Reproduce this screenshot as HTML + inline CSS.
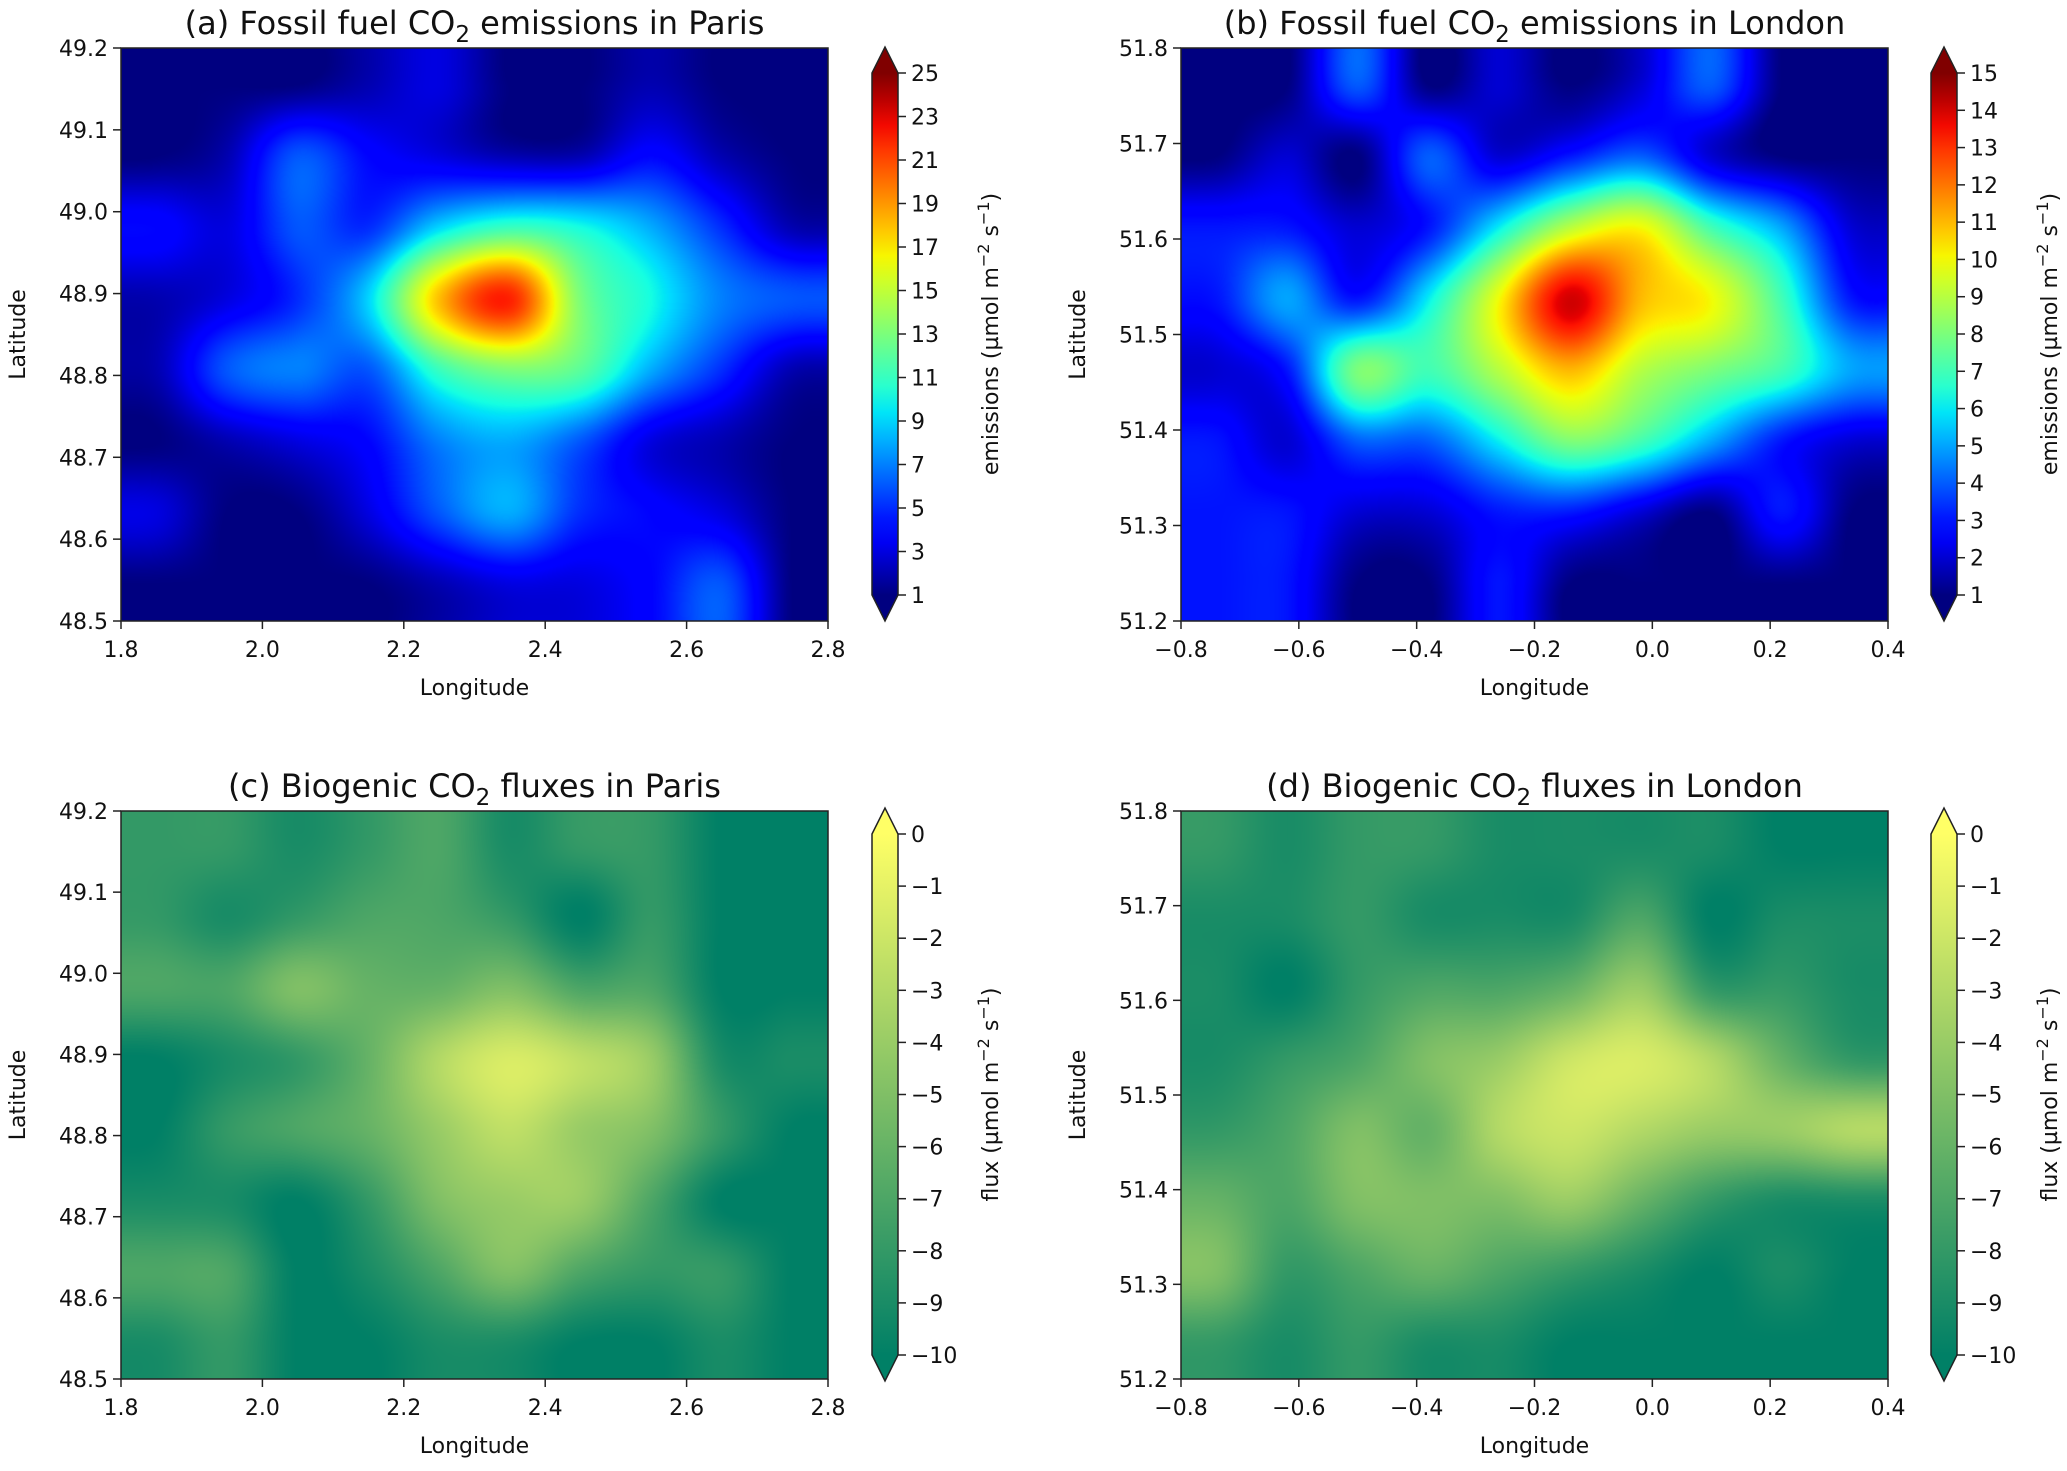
<!DOCTYPE html>
<html><head><meta charset="utf-8">
<style>
html,body{margin:0;padding:0;background:#fff;}
#root{position:relative;width:2067px;height:1471px;overflow:hidden;background:#fff;}
canvas{position:absolute;}
svg{position:absolute;left:0;top:0;}
text{font-family:"DejaVu Sans","Liberation Sans",sans-serif;fill:#111;}
</style></head>
<body>
<div id="root">
<canvas id="cva" width="707" height="573" style="left:121px;top:48px"></canvas>
<canvas id="cvb" width="707" height="573" style="left:1181px;top:48px"></canvas>
<canvas id="cvc" width="707" height="568" style="left:121px;top:811px"></canvas>
<canvas id="cvd" width="707" height="568" style="left:1181px;top:811px"></canvas>
<svg id="ov" width="2067" height="1471"></svg>
</div>
<script>
// ---- data (grid cell-center values, rows top->bottom) ----
const parisEmis = [
 [1,1,1,2,3,1,1,2,1,1],
 [1,2,6,4,3,2,2,4,2,1],
 [4,3,6,5,9,11,10,8,5,2],
 [2,3,5,9,18,22,13,10,7,6],
 [2,6,7,6,11,13,12,8,5,2],
 [1,2,3,4,7,8,6,3,2,1],
 [3,1,1,3,6,8,5,4,3,1],
 [1,1,1,1,2,3,3,4,6,1]];
const londonEmis = [
 [1,1,4,1,2,1,2,4,1,1],
 [1,2,1,4,2,3,4,2,1,1],
 [3,3,2,3,6,9,10,7,5,2],
 [3,5,3,6,10,14,11,10,7,3],
 [2,3,8,7,9,11,9,8,7,5],
 [3,2,4,4,6,8,7,5,3,2],
 [3,3,2,2,3,3,2,1,3,1],
 [3,3,1,1,3,1,1,1,1,1]];
const parisBio = [
 [-8,-8,-9,-8,-7,-9,-8,-8,-10,-10],
 [-8,-9,-8,-7,-7,-8,-10,-8,-10,-10],
 [-7,-7,-5,-6,-6,-5,-7,-7,-10,-10],
 [-10,-9,-8,-6,-3,-1.5,-2.5,-4,-9,-9],
 [-10,-8,-7,-6,-4,-2.5,-4,-5,-8,-10],
 [-9,-9,-10,-8,-5,-4,-4,-7,-10,-10],
 [-7,-7,-10,-9,-7,-5,-7,-8,-8,-10],
 [-9,-8,-10,-10,-9,-9,-10,-10,-9,-10]];
const londonBio = [
 [-8,-9,-8,-8,-9,-9,-9,-9,-10,-10],
 [-9,-9,-8,-9,-9,-9,-7,-10,-9,-9],
 [-9,-10,-8,-7,-7,-6,-4,-8,-8,-9],
 [-9,-8,-7,-5,-4,-2,-1.5,-3,-6,-8],
 [-8,-7,-5,-6,-3,-2,-3,-4,-4,-3],
 [-6,-7,-5,-5,-5,-4,-6,-8,-9,-9],
 [-5,-8,-7,-6,-7,-8,-9,-10,-9,-10],
 [-8,-9,-8,-9,-9,-10,-10,-10,-10,-10]];
const parisLonTicks = ["1.8","2.0","2.2","2.4","2.6","2.8"];
const londonLonTicks = ["\u22120.8","\u22120.6","\u22120.4","\u22120.2","0.0","0.2","0.4"];
const parisLatTicks = ["48.5","48.6","48.7","48.8","48.9","49.0","49.1","49.2"];
const londonLatTicks = ["51.2","51.3","51.4","51.5","51.6","51.7","51.8"];
const cbTicksA = [1,3,5,7,9,11,13,15,17,19,21,23,25];
const cbTicksB = [1,2,3,4,5,6,7,8,9,10,11,12,13,14,15];
const cbTicksC = [-10,-9,-8,-7,-6,-5,-4,-3,-2,-1,0];

function clamp(v){return v<0?0:v>1?1:v;}
function jetC(t){
  let r,g,b;
  r = t<0.35?0:t<0.66?(t-0.35)/0.31:t<0.89?1:1-(t-0.89)/0.11*0.5;
  g = t<0.125?0:t<0.375?(t-0.125)/0.25:t<0.64?1:t<0.91?1-(t-0.64)/0.27:0;
  b = t<0.11?0.5+t/0.11*0.5:t<0.34?1:t<0.65?1-(t-0.34)/0.31:0;
  return [clamp(r),clamp(g),clamp(b)];
}
function summer(t){return [t,0.5+t/2,0.4];}
function cr(p0,p1,p2,p3,t){return 0.5*((2*p1)+(-p0+p2)*t+(2*p0-5*p1+4*p2-p3)*t*t+(-p0+3*p1-3*p2+p3)*t*t*t);}
function sample(g,x,y){
  const R=g.length,C=g[0].length;
  const get=(r,c)=>g[Math.max(0,Math.min(R-1,r))][Math.max(0,Math.min(C-1,c))];
  const xi=Math.floor(x),yi=Math.floor(y),fx=x-xi,fy=y-yi;
  const rows=[];
  for(let k=-1;k<3;k++){rows.push(cr(get(yi+k,xi-1),get(yi+k,xi),get(yi+k,xi+1),get(yi+k,xi+2),fx));}
  return cr(rows[0],rows[1],rows[2],rows[3],fy);
}
function drawMap(id,grid,vmin,vmax,cmap){
  const cv=document.getElementById(id),ctx=cv.getContext('2d');
  const W=cv.width,H=cv.height,img=ctx.createImageData(W,H);
  const C=grid[0].length,R=grid.length;
  for(let py=0;py<H;py++){
    const gy=(py+0.5)/H*R-0.5;
    for(let px=0;px<W;px++){
      const gx=(px+0.5)/W*C-0.5;
      const v=sample(grid,gx,gy);
      const c=cmap(clamp((v-vmin)/(vmax-vmin)));
      const i=(py*W+px)*4;
      img.data[i]=c[0]*255;img.data[i+1]=c[1]*255;img.data[i+2]=c[2]*255;img.data[i+3]=255;
    }
  }
  ctx.putImageData(img,0,0);
}
drawMap('cva',parisEmis,1,25,jetC);
drawMap('cvb',londonEmis,1,15,jetC);
drawMap('cvc',parisBio,-10,0,summer);
drawMap('cvd',londonBio,-10,0,summer);

const NS='http://www.w3.org/2000/svg';
const svg=document.getElementById('ov');
function el(tag,attrs,parent){const e=document.createElementNS(NS,tag);for(const k in attrs)e.setAttribute(k,attrs[k]);(parent||svg).appendChild(e);return e;}
function txt(s,attrs,parent){const e=el('text',attrs,parent);e.textContent=s;return e;}

const defs=el('defs',{});
function grad(id,cmap){
  const g=el('linearGradient',{id:id,x1:0,y1:1,x2:0,y2:0},defs);
  for(let i=0;i<=20;i++){const c=cmap(i/20);el('stop',{offset:(i/20),'stop-color':`rgb(${Math.round(c[0]*255)},${Math.round(c[1]*255)},${Math.round(c[2]*255)})`},g);}
}
grad('gjet',jetC);grad('gsum',summer);

function axes(name,L,T,W,H,xt,yt,title,sub,titleRest){
  const g=el('g',{});
  
  
  el('rect',{x:L,y:T,width:W,height:H,fill:'none',stroke:'#222','stroke-width':1.5},g);
  xt.forEach((s,i)=>{const x=L+W*i/(xt.length-1);
    el('line',{x1:x,y1:T+H,x2:x,y2:T+H+8,stroke:'#222','stroke-width':1.5},g);
    const t=txt(s,{x:x,y:T+H+36,'font-size':22,'text-anchor':'middle'},g);
    });
  yt.forEach((s,i)=>{const y=T+H-H*i/(yt.length-1);
    el('line',{x1:L-8,y1:y,x2:L,y2:y,stroke:'#222','stroke-width':1.5},g);
    const t=txt(s,{x:L-13,y:y+8,'font-size':22,'text-anchor':'end'},g);
    });
  const xl=txt('Longitude',{x:L+W/2,y:T+H+74,'font-size':22,'text-anchor':'middle'},g);
  
  const yl=txt('Latitude',{x:0,y:0,'font-size':22,'text-anchor':'middle',transform:`translate(${L-96},${T+H/2}) rotate(-90)`},g);
  
  const tt=el('text',{x:L+W/2,y:T-14,'font-size':32,'text-anchor':'middle'},g);
  
  const a=el('tspan',{},tt);a.textContent=title;
  const b=el('tspan',{dy:8,'font-size':23},tt);b.textContent=sub;
  const c=el('tspan',{dy:-8},tt);c.textContent=titleRest;
}
axes('panel-a-axes',121,48,707,573,parisLonTicks,parisLatTicks,'(a) Fossil fuel CO','2',' emissions in Paris');
axes('panel-b-axes',1181,48,707,573,londonLonTicks,londonLatTicks,'(b) Fossil fuel CO','2',' emissions in London');
axes('panel-c-axes',121,811,707,568,parisLonTicks,parisLatTicks,'(c) Biogenic CO','2',' fluxes in Paris');
axes('panel-d-axes',1181,811,707,568,londonLonTicks,londonLatTicks,'(d) Biogenic CO','2',' fluxes in London');

function cbar(name,x,top,bot,tip,ticks,gid,label){
  const g=el('g',{});
  
  
  const w=26,vmin=ticks[0],vmax=ticks[ticks.length-1];
  const ys=v=>bot-(v-vmin)/(vmax-vmin)*(bot-top);
  const d=`M${x},${top} L${x+w/2},${top-tip} L${x+w},${top} L${x+w},${bot} L${x+w/2},${bot+tip} L${x},${bot} Z`;
  el('rect',{x:x,y:top,width:w,height:bot-top,fill:`url(#${gid})`},g);
  const c1=gid==='gjet'?jetC(1):summer(1),c0=gid==='gjet'?jetC(0):summer(0);
  const rgb=c=>`rgb(${Math.round(c[0]*255)},${Math.round(c[1]*255)},${Math.round(c[2]*255)})`;
  el('path',{d:`M${x},${top} L${x+w/2},${top-tip} L${x+w},${top} Z`,fill:rgb(c1)},g);
  el('path',{d:`M${x},${bot} L${x+w/2},${bot+tip} L${x+w},${bot} Z`,fill:rgb(c0)},g);
  el('path',{d:d,fill:'none',stroke:'#222','stroke-width':1.5},g);
  ticks.forEach(v=>{const y=ys(v);
    el('line',{x1:x+w,y1:y,x2:x+w+8,y2:y,stroke:'#222','stroke-width':1.5},g);
    const t=txt(String(v).replace('-','\u2212'),{x:x+w+13,y:y+8,'font-size':22},g);
    });
  const lt=el('text',{x:0,y:0,'font-size':22,'text-anchor':'middle',transform:`translate(${x+w+100},${(top+bot)/2}) rotate(-90)`},g);
  
  const p=[[label+' (\u00b5mol m',0,22],['\u22122',-9,16],[' s',9,22],['\u22121',-9,16],[')',9,22]];
  p.forEach(q=>{const s=el('tspan',{dy:q[1],'font-size':q[2]},lt);s.textContent=q[0];});
}
cbar('colorbar-a',872,73,595,26,cbTicksA,'gjet','emissions');
cbar('colorbar-b',1931,73,595,26,cbTicksB,'gjet','emissions');
cbar('colorbar-c',872,834,1355,26,cbTicksC,'gsum','flux');
cbar('colorbar-d',1931,834,1355,26,cbTicksC,'gsum','flux');
</script>
</body></html>
